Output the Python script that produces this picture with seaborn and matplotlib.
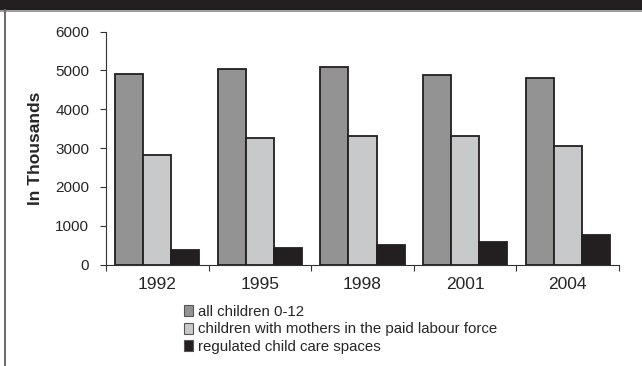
import matplotlib
matplotlib.use("Agg")
import matplotlib.pyplot as plt
from matplotlib.patches import Rectangle, Patch
from matplotlib.lines import Line2D
import seaborn as sns
import pandas as pd
import numpy as np

years = ["1992", "1995", "1998", "2001", "2004"]
series = [
    "all children 0-12",
    "children with mothers in the paid labour force",
    "regulated child care spaces",
]
all_children = [4900, 5030, 5080, 4880, 4800]
mothers_working = [2820, 3250, 3310, 3310, 3050]
care_spaces = [370, 425, 500, 580, 760]
colors = ["#939393", "#c8c9cb", "#231f20"]

df = pd.DataFrame({
    "year": years * 3,
    "value": all_children + mothers_working + care_spaces,
    "series": [series[0]] * 5 + [series[1]] * 5 + [series[2]] * 5,
})

sns.set_style("white")
plt.rcParams["font.family"] = ["Liberation Sans", "DejaVu Sans"]

fig = plt.figure(figsize=(6.42, 3.66), dpi=100)
ax = fig.add_axes([106 / 642, 1 - 264.5 / 366, (619 - 106) / 642, (264.5 - 31.7) / 366])

sns.barplot(data=df, x="year", y="value", hue="series", hue_order=series,
            palette=colors, width=0.82, edgecolor="#231f20", linewidth=1.3,
            saturation=1, legend=False, ax=ax)

ax.set_ylim(0, 6000)
ax.set_xlim(-0.5, len(years) - 0.5)
ax.set_yticks(np.arange(0, 6001, 1000))
ax.tick_params(axis="y", labelsize=11, length=4, width=0.8, color="#333333",
               left=True, pad=8)
ax.tick_params(axis="x", which="major", length=0, labelsize=12.5, pad=9)
ax.set_xticks(np.arange(-0.5, len(years), 1.0), minor=True)
ax.tick_params(axis="x", which="minor", length=4, width=0.8, color="#333333",
               bottom=True)
ax.set_xlabel("")
ax.set_ylabel("In Thousands", fontsize=12.5, fontweight="bold", labelpad=9)
for side in ["top", "right"]:
    ax.spines[side].set_visible(False)
for side in ["left", "bottom"]:
    ax.spines[side].set_color("#333333")
    ax.spines[side].set_linewidth(0.8)
ax.grid(False)

handles = [Patch(facecolor=c, edgecolor="#555555", linewidth=0.8) for c in colors]
fig.legend(handles, series, loc="upper left", bbox_to_anchor=(184 / 642, 1 - 305 / 366),
           frameon=False, fontsize=10.8, handlelength=0.6, handleheight=0.75,
           handletextpad=0.35, labelspacing=0.22, borderpad=0, borderaxespad=0)

# header band and frame
fig.add_artist(Rectangle((0, 1 - 10 / 366), 1, 10 / 366, transform=fig.transFigure,
                         facecolor="#231f20", edgecolor="none"))
fig.add_artist(Line2D([0, 1], [1 - 10.5 / 366] * 2, transform=fig.transFigure,
                      color="#8a8a8a", linewidth=1.2))
fig.add_artist(Line2D([4.5 / 642] * 2, [0, 1 - 10 / 366], transform=fig.transFigure,
                      color="#6e6e6e", linewidth=1.5))

fig.savefig("out.png", dpi=100)
